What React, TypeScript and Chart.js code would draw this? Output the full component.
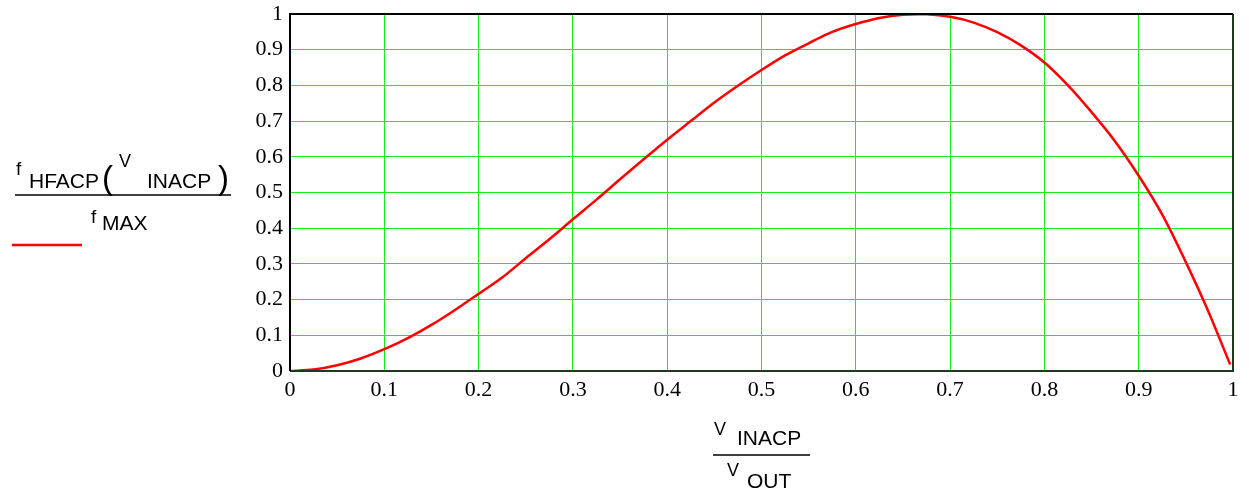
import React, { useEffect, useRef } from "react";
import { Chart, registerables } from "chart.js";

Chart.register(...registerables);

const xValues = [0, 0.025, 0.05, 0.075, 0.1, 0.125, 0.15, 0.175, 0.2, 0.225, 0.25, 0.275, 0.3, 0.325, 0.35, 0.375, 0.4, 0.425, 0.45, 0.475, 0.5, 0.525, 0.55, 0.575, 0.6, 0.625, 0.65, 0.675, 0.7, 0.725, 0.75, 0.775, 0.8, 0.825, 0.85, 0.875, 0.9, 0.925, 0.95, 0.975, 0.997];
const yValues = [0, 0.004, 0.016, 0.035, 0.061, 0.092, 0.129, 0.171, 0.216, 0.262, 0.316, 0.369, 0.425, 0.48, 0.537, 0.593, 0.648, 0.7, 0.752, 0.799, 0.843, 0.884, 0.918, 0.95, 0.972, 0.989, 0.998, 0.999, 0.992, 0.976, 0.949, 0.912, 0.864, 0.8, 0.725, 0.643, 0.547, 0.438, 0.305, 0.16, 0.018];
const tickValues = [0, 0.1, 0.2, 0.3, 0.4, 0.5, 0.6, 0.7, 0.8, 0.9, 1];

const SANS = "'Liberation Sans', Arial, sans-serif";
const SERIF = "'Liberation Serif', 'Times New Roman', serif";

const labelsPlugin = {
  id: "mathLabels",
  afterDraw(chart: any) {
    const ctx = chart.ctx as CanvasRenderingContext2D;
    const a = chart.chartArea;
    ctx.save();
    // border
    ctx.lineWidth = 2;
    ctx.strokeStyle = "#1e3a1e";
    ctx.beginPath();
    ctx.moveTo(a.left, a.bottom);
    ctx.lineTo(a.right, a.bottom);
    ctx.lineTo(a.right, a.top);
    ctx.stroke();
    ctx.strokeStyle = "#000";
    ctx.beginPath();
    ctx.moveTo(a.left, a.bottom);
    ctx.lineTo(a.left, a.top);
    ctx.lineTo(a.right, a.top);
    ctx.stroke();

    ctx.fillStyle = "#000";
    ctx.textBaseline = "alphabetic";
    ctx.textAlign = "left";
    // left label numerator
    ctx.font = `19px ${SANS}`;
    ctx.fillText("f", 16, 175);
    ctx.font = `21px ${SANS}`;
    ctx.fillText("HFACP", 29, 188);
    ctx.font = `33px ${SANS}`;
    ctx.fillText("(", 102, 189);
    ctx.font = `18px ${SANS}`;
    ctx.fillText("V", 119, 167);
    ctx.font = `21px ${SANS}`;
    ctx.fillText("INACP", 147, 188);
    ctx.font = `33px ${SANS}`;
    ctx.fillText(")", 218, 189);
    ctx.lineWidth = 1.5;
    ctx.strokeStyle = "#000";
    ctx.beginPath();
    ctx.moveTo(15, 195);
    ctx.lineTo(231, 195);
    ctx.stroke();
    ctx.font = `19px ${SANS}`;
    ctx.fillText("f", 91, 223);
    ctx.font = `21px ${SANS}`;
    ctx.fillText("MAX", 102, 230);
    // legend line
    ctx.strokeStyle = "#ff0000";
    ctx.lineWidth = 2.5;
    ctx.beginPath();
    ctx.moveTo(12, 245);
    ctx.lineTo(82, 245);
    ctx.stroke();

    // bottom label
    ctx.fillStyle = "#000";
    ctx.font = `18px ${SANS}`;
    ctx.fillText("V", 714, 435);
    ctx.font = `21px ${SANS}`;
    ctx.fillText("INACP", 737, 445);
    ctx.strokeStyle = "#000";
    ctx.lineWidth = 1.5;
    ctx.beginPath();
    ctx.moveTo(713, 455);
    ctx.lineTo(810, 455);
    ctx.stroke();
    ctx.font = `18px ${SANS}`;
    ctx.fillText("V", 727, 476);
    ctx.font = `21px ${SANS}`;
    ctx.fillText("OUT", 747, 488);
    ctx.restore();
  },
};

export default function App() {
  const ref = useRef<HTMLCanvasElement>(null);
  useEffect(() => {
    if (!ref.current) return;
    const chart = new Chart(ref.current, {
      type: "line",
      data: {
        datasets: [
          {
            data: xValues.map((x, i) => ({ x, y: yValues[i] })),
            borderColor: "#ff0000",
            borderWidth: 2.5,
            pointRadius: 0,
            tension: 0.3,
            fill: false,
          },
        ],
      },
      options: {
        animation: false,
        responsive: false,
        maintainAspectRatio: false,
        layout: { padding: { top: 14, right: 16, left: 0, bottom: 0 } },
        plugins: { legend: { display: false }, tooltip: { enabled: false } },
        scales: {
          x: {
            type: "linear",
            min: 0,
            max: 1,
            afterFit: (s: any) => { s.height = 120; s.paddingLeft = 0; s.paddingRight = 0; },
            afterBuildTicks: (s: any) => { s.ticks = tickValues.map((v) => ({ value: v })); },
            ticks: {
              color: "#000",
              font: { family: SERIF, size: 22 },
              padding: 6,
              maxRotation: 0,
              autoSkip: false,
              callback: (v: any) => String(Number(Number(v).toFixed(1))),
            },
            grid: { color: "#1aee1a", lineWidth: 1, drawTicks: false },
            border: { display: false },
          },
          y: {
            min: 0,
            max: 1,
            afterFit: (s: any) => { s.width = 290; s.paddingTop = 0; s.paddingBottom = 0; },
            afterBuildTicks: (s: any) => { s.ticks = tickValues.map((v) => ({ value: v })); },
            ticks: {
              color: "#000",
              font: { family: SERIF, size: 22 },
              padding: 7,
              autoSkip: false,
              callback: (v: any) => String(Number(Number(v).toFixed(1))),
            },
            grid: { color: "#1aee1a", lineWidth: 1, drawTicks: false },
            border: { display: false },
          },
        },
      },
      plugins: [labelsPlugin],
    });
    return () => chart.destroy();
  }, []);
  return (
    <div style={{ position: "absolute", left: 0, top: 0, width: 1249, height: 491, background: "#fff" }}>
      <canvas ref={ref} width={1249} height={491} style={{ width: 1249, height: 491, display: "block" }} />
    </div>
  );
}
